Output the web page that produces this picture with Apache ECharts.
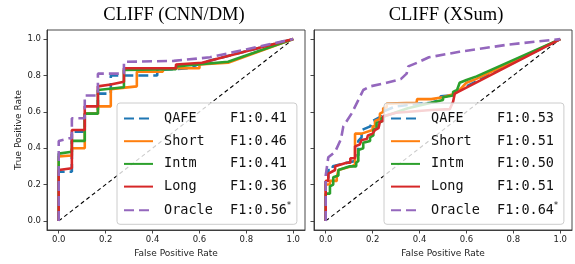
<!DOCTYPE html>
<html>
<head>
<meta charset="utf-8">
<script src="https://cdn.jsdelivr.net/npm/echarts@6/dist/echarts.min.js"></script>
<style>
  html, body { margin: 0; padding: 0; background: #fff; }
  #chart { width: 575px; height: 264px; }
</style>
</head>
<body>
<div id="chart"></div>
<script>
// legend labels, scores and panel titles
const methods = ['QAFE', 'Short', 'Intm', 'Long', 'Oracle']
const cnnF1 = ['0.41', '0.46', '0.41', '0.36', '0.56']
const xsumF1 = ['0.53', '0.51', '0.50', '0.51', '0.64']
const titles = ['CLIFF (CNN/DM)', 'CLIFF (XSum)']
const tickValues = [0, 0.2, 0.4, 0.6, 0.8, 1.0]
const chanceLine = [[0, 0], [1, 1]]

// ROC points [fpr, tpr], CNN/DM
const cnnQafe = [[0, 0], [0, 0.27], [0.056, 0.27], [0.056, 0.49], [0.111, 0.49], [0.111, 0.59], [0.167, 0.59], [0.167, 0.70], [0.222, 0.70], [0.222, 0.80], [0.42, 0.80], [0.42, 0.83], [0.556, 0.84], [0.611, 0.87], [1, 1]]
const cnnShort = [[0, 0], [0, 0.355], [0.056, 0.36], [0.056, 0.40], [0.111, 0.40], [0.111, 0.59], [0.167, 0.59], [0.167, 0.63], [0.222, 0.63], [0.222, 0.725], [0.333, 0.74], [0.333, 0.82], [0.444, 0.82], [0.444, 0.84], [0.6, 0.84], [0.6, 0.86], [0.722, 0.87], [1, 1]]
const cnnIntm = [[0, 0], [0, 0.37], [0.056, 0.38], [0.056, 0.44], [0.111, 0.44], [0.111, 0.59], [0.167, 0.59], [0.167, 0.72], [0.278, 0.735], [0.278, 0.83], [0.5, 0.835], [0.5, 0.85], [0.722, 0.875], [1, 1]]
const cnnLong = [[0, 0], [0, 0.28], [0.056, 0.29], [0.056, 0.50], [0.111, 0.50], [0.111, 0.63], [0.167, 0.63], [0.167, 0.74], [0.222, 0.75], [0.278, 0.765], [0.278, 0.84], [0.5, 0.84], [0.5, 0.86], [0.611, 0.87], [1, 1]]
const cnnOracle = [[0, 0], [0, 0.44], [0.046, 0.455], [0.056, 0.455], [0.056, 0.565], [0.111, 0.565], [0.111, 0.69], [0.167, 0.69], [0.167, 0.81], [0.278, 0.81], [0.278, 0.875], [0.49, 0.88], [0.645, 0.90], [1, 1]]

// ROC points [fpr, tpr], XSum
const xsumQafe = [[0, 0], [0, 0.22], [0.011, 0.22], [0.011, 0.28], [0.03, 0.28], [0.03, 0.30], [0.06, 0.31], [0.125, 0.33], [0.13, 0.36], [0.139, 0.36], [0.139, 0.44], [0.153, 0.46], [0.153, 0.50], [0.19, 0.52], [0.2, 0.55], [0.231, 0.57], [0.24, 0.60], [0.26, 0.61], [0.3, 0.63], [0.4, 0.645], [0.45, 0.65], [0.486, 0.665], [0.49, 0.685], [0.53, 0.69], [0.53, 0.70], [0.6, 0.74], [1, 1]]
const xsumShort = [[0, 0], [0, 0.20], [0.018, 0.20], [0.018, 0.22], [0.047, 0.22], [0.047, 0.24], [0.054, 0.24], [0.054, 0.28], [0.11, 0.30], [0.125, 0.31], [0.125, 0.48], [0.153, 0.48], [0.153, 0.49], [0.2, 0.50], [0.2, 0.52], [0.21, 0.52], [0.21, 0.55], [0.231, 0.56], [0.231, 0.59], [0.245, 0.60], [0.245, 0.62], [0.26, 0.625], [0.26, 0.645], [0.387, 0.65], [0.39, 0.67], [0.45, 0.67], [0.5, 0.68], [0.55, 0.70], [0.571, 0.72], [0.6, 0.76], [0.64, 0.78], [1, 1]]
const xsumIntm = [[0, 0], [0, 0.15], [0.018, 0.15], [0.018, 0.19], [0.032, 0.20], [0.032, 0.24], [0.054, 0.25], [0.054, 0.28], [0.103, 0.30], [0.13, 0.30], [0.13, 0.32], [0.139, 0.33], [0.139, 0.39], [0.16, 0.40], [0.16, 0.43], [0.189, 0.44], [0.189, 0.46], [0.203, 0.47], [0.203, 0.50], [0.217, 0.51], [0.217, 0.54], [0.238, 0.545], [0.238, 0.565], [0.26, 0.58], [0.35, 0.62], [0.45, 0.65], [0.5, 0.665], [0.5, 0.68], [0.543, 0.69], [0.543, 0.71], [0.56, 0.72], [0.571, 0.76], [0.6, 0.775], [0.643, 0.795], [1, 1]]
const xsumLong = [[0, 0], [0, 0.22], [0.011, 0.22], [0.011, 0.26], [0.04, 0.28], [0.04, 0.30], [0.089, 0.32], [0.105, 0.32], [0.105, 0.345], [0.125, 0.345], [0.125, 0.41], [0.145, 0.42], [0.153, 0.445], [0.175, 0.45], [0.18, 0.47], [0.2, 0.48], [0.21, 0.50], [0.225, 0.51], [0.231, 0.545], [0.245, 0.55], [0.245, 0.575], [0.3, 0.595], [0.45, 0.61], [0.529, 0.615], [0.543, 0.655], [0.55, 0.70], [1, 1]]
const xsumOracle = [[0, 0], [0, 0.25], [0.011, 0.35], [0.04, 0.38], [0.065, 0.45], [0.075, 0.52], [0.11, 0.59], [0.145, 0.68], [0.16, 0.72], [0.19, 0.74], [0.26, 0.76], [0.32, 0.78], [0.345, 0.81], [0.352, 0.85], [0.39, 0.87], [0.44, 0.90], [0.57, 0.93], [0.78, 0.97], [1, 1]]

const colors = ['#1f77b4', '#ff7f0e', '#2ca02c', '#d62728', '#9467bd']
const dashed = [true, false, false, false, true]
const panels = [
  { key: 'cnn', f1: cnnF1, curves: [cnnQafe, cnnShort, cnnIntm, cnnLong, cnnOracle], left: 47, legendLeft: 117 },
  { key: 'xsum', f1: xsumF1, curves: [xsumQafe, xsumShort, xsumIntm, xsumLong, xsumOracle], left: 314, legendLeft: 384 }
]

const chart = echarts.init(document.getElementById('chart'), null, { renderer: 'canvas' })

const tickFont = { fontFamily: 'DejaVu Sans', fontSize: 8.5, color: '#222' }
const legendFont = 'DejaVu Sans Mono'

function makeAxis(i, kind) {
  return {
    type: 'value',
    gridIndex: i,
    min: -0.05,
    max: 1.05,
    name: kind === 'x' ? 'False Positive Rate' : (i === 0 ? 'True Positive Rate' : ''),
    nameLocation: 'middle',
    nameGap: kind === 'x' ? 19 : 24,
    nameTextStyle: { fontFamily: 'DejaVu Sans', fontSize: 9, color: '#222' },
    axisLine: { show: true, onZero: false, lineStyle: { color: '#333', width: 0.9 } },
    splitLine: { show: false },
    axisTick: { show: true, length: 3.5, lineStyle: { color: '#333', width: 0.9 }, customValues: tickValues },
    axisLabel: Object.assign({
      show: kind === 'x' || i === 0,
      margin: kind === 'x' ? 5 : 6,
      customValues: tickValues,
      formatter: v => v.toFixed(1)
    }, tickFont)
  }
}

const series = []
const legends = []
panels.forEach((p, i) => {
  series.push({
    name: p.key + '-diag',
    type: 'line',
    xAxisIndex: i,
    yAxisIndex: i,
    data: chanceLine,
    symbol: 'none',
    lineStyle: { color: '#000', width: 1.1, type: [4, 3] }
  })
  const names = []
  p.curves.forEach((c, j) => {
    const name = p.key + '-' + methods[j]
    names.push(name)
    series.push({
      name: name,
      type: 'line',
      xAxisIndex: i,
      yAxisIndex: i,
      data: c,
      symbol: 'none',
      color: colors[j],
      lineStyle: { color: colors[j], width: 2.6, type: dashed[j] ? [10, 5] : 'solid' }
    })
  })
  legends.push({
    data: names,
    orient: 'vertical',
    left: p.legendLeft,
    top: 103,
    itemWidth: 29,
    itemHeight: 14,
    itemGap: 8.7,
    padding: [8.5, 6, 7, 6],
    backgroundColor: 'rgba(255,255,255,0.8)',
    borderColor: '#cccccc',
    borderWidth: 1,
    borderRadius: 3,
    selectedMode: false,
    itemStyle: { opacity: 0 },
    formatter: name => {
      const j = names.indexOf(name)
      let s = '{n|' + methods[j] + '}{f|F1:' + p.f1[j] + '}'
      if (methods[j] === 'Oracle') s += '{s|*}'
      return s
    },
    textStyle: {
      rich: {
        n: { fontFamily: legendFont, fontSize: 13.5, color: '#111', width: 66, padding: [0, 0, 0, 6], lineHeight: 16 },
        f: { fontFamily: legendFont, fontSize: 13.5, color: '#111', lineHeight: 16 },
        s: { fontFamily: 'DejaVu Sans', fontSize: 8, color: '#111', verticalAlign: 'top', lineHeight: 16 }
      }
    }
  })
})

chart.setOption({
  animation: false,
  grid: panels.map(p => ({
    left: p.left, top: 30, width: 258, height: 200,
    show: true, borderColor: '#333', borderWidth: 0.9, backgroundColor: 'transparent'
  })),
  xAxis: panels.map((p, i) => makeAxis(i, 'x')),
  yAxis: panels.map((p, i) => makeAxis(i, 'y')),
  legend: legends,
  graphic: titles.map((t, i) => ({
    type: 'text',
    x: i === 0 ? 174 : 446,
    y: 15,
    style: {
      text: t,
      fontFamily: 'Liberation Serif',
      fontSize: 18.5,
      fill: '#000',
      textAlign: 'center',
      textVerticalAlign: 'middle'
    }
  })),
  series: series
})
</script>
</body>
</html>
